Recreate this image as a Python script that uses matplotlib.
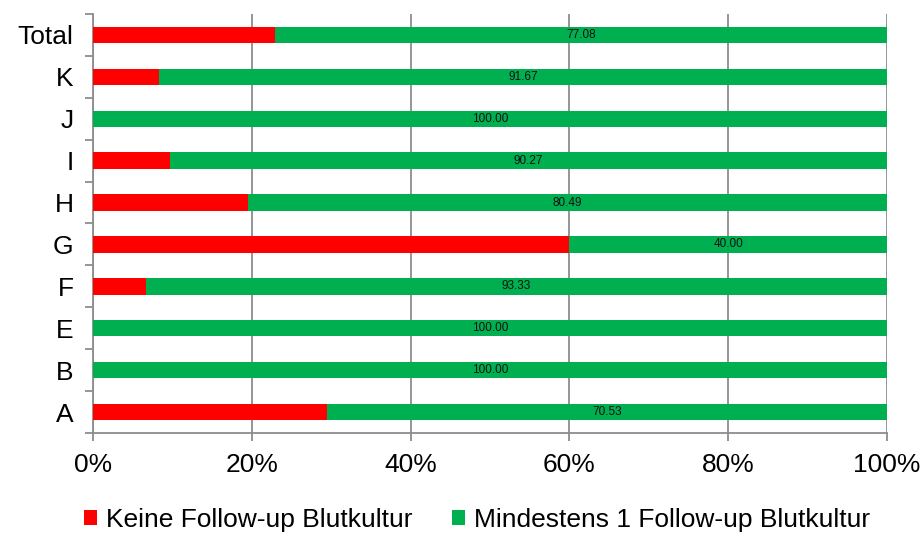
import numpy as np
import matplotlib.pyplot as plt
from matplotlib.ticker import FixedLocator, FuncFormatter

plt.rcParams['font.family'] = ['Liberation Sans', 'DejaVu Sans']

# stations from bottom to top
stations = ['A', 'B', 'E', 'F', 'G', 'H', 'I', 'J', 'K', 'Total']
# share with at least one follow-up blood culture (%)
followup = [70.53, 100.00, 100.00, 93.33, 40.00, 80.49, 90.27, 100.00, 91.67, 77.08]
no_followup = [100 - v for v in followup]

red = '#FF0000'
green = '#00B050'
grid_col = '#8C8C8C'

fig = plt.figure(figsize=(9.21, 5.34), dpi=100)
ax = fig.add_axes([0.101, 0.189, 0.862, 0.785])

y = np.arange(len(stations))
h = 0.39
ax.barh(y, no_followup, height=h, color=red, label='Keine Follow-up Blutkultur', zorder=3)
ax.barh(y, followup, left=no_followup, height=h, color=green,
        label='Mindestens 1 Follow-up Blutkultur', zorder=3)

# value labels in the middle of the green part
for yi, left, val in zip(y, no_followup, followup):
    ax.text(left + val / 2, yi, f'{val:.2f}', ha='center', va='center',
            fontsize=8.5, color='#111111', zorder=4)

ax.set_xlim(0, 100)
ax.set_ylim(-0.5, len(stations) - 0.5)
ax.set_xticks(np.arange(0, 101, 20))
ax.xaxis.set_major_formatter(FuncFormatter(lambda v, p: f'{v:.0f}%'))
ax.set_yticks(y)
ax.set_yticklabels(stations)
ax.yaxis.set_minor_locator(FixedLocator(np.arange(-0.5, len(stations), 1)))

ax.tick_params(axis='y', which='major', length=0, pad=14, labelsize=19)
ax.tick_params(axis='y', which='minor', length=6, width=1.3, color=grid_col)
ax.tick_params(axis='x', which='major', length=6, width=1.3, color=grid_col,
               labelsize=19, pad=8)

ax.grid(axis='x', color=grid_col, linewidth=1.3, zorder=0)
for side in ['top', 'right']:
    ax.spines[side].set_visible(False)
for side in ['left', 'bottom']:
    ax.spines[side].set_color(grid_col)
    ax.spines[side].set_linewidth(1.3)

fig.legend(loc='lower center', bbox_to_anchor=(0.518, -0.04), ncol=2, frameon=False,
           fontsize=19, handlelength=0.5, handleheight=0.5, handletextpad=0.35,
           columnspacing=1.5)

fig.savefig('out.png', dpi=100)
